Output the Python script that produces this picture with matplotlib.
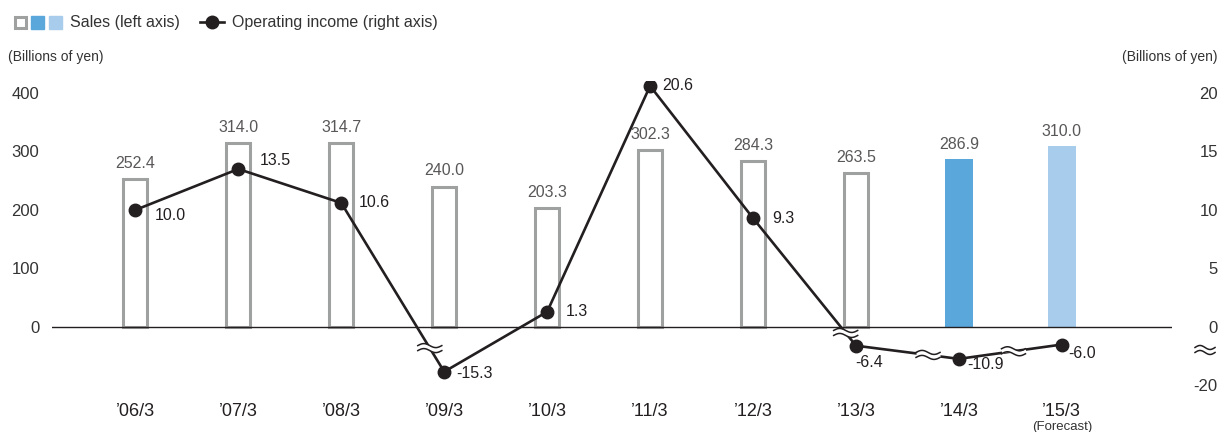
import matplotlib.pyplot as plt
from matplotlib.patches import Rectangle
from matplotlib.lines import Line2D
import numpy as np

plt.rcParams['font.family'] = ['Liberation Sans', 'DejaVu Sans']

periods = ["’06/3", "’07/3", "’08/3", "’09/3", "’10/3", "’11/3", "’12/3", "’13/3", "’14/3", "’15/3"]
sales = [252.4, 314.0, 314.7, 240.0, 203.3, 302.3, 284.3, 263.5, 286.9, 310.0]
op_income = [10.0, 13.5, 10.6, -15.3, 1.3, 20.6, 9.3, -6.4, -10.9, -6.0]
left_ticks = [0, 100, 200, 300, 400]
right_ticks = [20, 15, 10, 5, 0, -20]

# label offsets for operating income (pixels: dx, dy down)
inc_offsets = [(19, 6), (21, -9), (17, 0), (12, 2), (19, 0), (12, 0), (19, 0), (-1, 17), (8, 6), (6, 9)]
# break marks sit on these segments (start index, fraction along)
breaks = [(2, 0.86), (6, 0.9), (7, 0.7), (8, 0.53)]

W, H = 1224, 432
PX_X = 102.9   # px per category
PX_Y = 0.585   # px per left-axis unit


def to_left(v):
    # right axis is broken: positives 1:20, negatives 1:5
    v = np.asarray(v, dtype=float)
    return np.where(v >= 0, v * 20, v * 5)


def squiggle(ax, cx, cy, width=24, amp=2.0, gap=5):
    t = np.linspace(-0.5, 0.5, 40)
    xs = cx + t * width / PX_X
    wave = amp * np.sin(t * 2 * np.pi)
    y1 = cy - (wave - gap / 2) / PX_Y
    y2 = cy - (wave + gap / 2) / PX_Y
    ax.fill_between(xs, y1, y2, color='white', zorder=5, clip_on=False, lw=0)
    ax.plot(xs, y1, color='#231f20', lw=1.1, zorder=6, clip_on=False)
    ax.plot(xs, y2, color='#231f20', lw=1.1, zorder=6, clip_on=False)


fig = plt.figure(figsize=(12.24, 4.32), dpi=100)
ax = fig.add_axes([52 / W, 0.0806, 1120 / W, 0.7313])
ax.set_xlim(-0.81, 10.07)
ax.set_ylim(-120, 420)

x = np.arange(len(periods))
edge = '#9fa0a0'
for i, s in enumerate(sales):
    if i < 8:
        ax.bar(i, s, width=0.235, facecolor='white', edgecolor=edge, linewidth=2.2, zorder=2)
        top = s + 2
    else:
        c = '#5aa7dc' if i == 8 else '#a8cceb'
        ax.bar(i, s, width=0.27, color=c, zorder=2)
        top = s
    ax.annotate(f"{s:.1f}", (i, top), xytext=(0, 5), textcoords='offset points',
                ha='center', va='bottom', fontsize=11.5, color='#595757')

ax.axhline(0, color='#231f20', lw=1.0, zorder=3)

yl = to_left(op_income)
ax.plot(x, yl, color='#231f20', lw=1.9, marker='o', ms=9, zorder=4)
for i, v in enumerate(op_income):
    dx, dy = inc_offsets[i]
    ax.annotate(f"{v:.1f}", (i, yl[i]), xytext=(dx * 0.72, -dy * 0.72), textcoords='offset points',
                ha='left', va='center', fontsize=11.5, color='#231f20')

for i, f in breaks:
    cx = i + f
    cy = yl[i] + f * (yl[i + 1] - yl[i])
    squiggle(ax, cx, cy)
# break on the right axis
squiggle(ax, 10.07 + (1205 - 1172) / PX_X, -(350 - 327) / PX_Y, width=20)

for sp in ax.spines.values():
    sp.set_visible(False)
ax.set_yticks(left_ticks)
ax.tick_params(axis='y', length=0, pad=9, labelsize=12, labelcolor='#333333')
ax.set_xticks(x)
ax.set_xticklabels(periods)
ax.tick_params(axis='x', length=0, pad=4, labelsize=13, labelcolor='#231f20')

ax2 = ax.twinx()
ax2.set_ylim(ax.get_ylim())
ax2.set_yticks(to_left(right_ticks))
ax2.set_yticklabels([str(t) for t in right_ticks], ha='right')
ax2.tick_params(axis='y', length=0, pad=33, labelsize=12, labelcolor='#333333')
for sp in ax2.spines.values():
    sp.set_visible(False)

ax.text(9, -0.075, "(Forecast)", transform=ax.get_xaxis_transform(), ha='center', va='top',
        fontsize=9.5, color='#333333')

fig.text(8 / W, 1 - 57 / H, "(Billions of yen)", ha='left', va='center', fontsize=10, color='#333333')
fig.text(1218 / W, 1 - 57 / H, "(Billions of yen)", ha='right', va='center', fontsize=10, color='#333333')

# legend
fig.add_artist(Rectangle((15 / W, 1 - 28 / H), 11 / W, 11 / H, transform=fig.transFigure,
                         facecolor='white', edgecolor=edge, lw=2.2))
fig.add_artist(Rectangle((31 / W, 1 - 29 / H), 13 / W, 13 / H, transform=fig.transFigure, color='#5aa7dc'))
fig.add_artist(Rectangle((49 / W, 1 - 29 / H), 13 / W, 13 / H, transform=fig.transFigure, color='#a8cceb'))
fig.text(70 / W, 1 - 22 / H, "Sales (left axis)", ha='left', va='center', fontsize=11.5, color='#333333')
fig.add_artist(Line2D([200 / W, 224 / W], [1 - 22 / H, 1 - 22 / H], transform=fig.transFigure,
                      color='#231f20', lw=1.9))
fig.add_artist(Line2D([212 / W], [1 - 22 / H], transform=fig.transFigure,
                      color='#231f20', marker='o', ms=9, lw=0))
fig.text(232 / W, 1 - 22 / H, "Operating income (right axis)", ha='left', va='center', fontsize=11.5, color='#333333')

fig.savefig("out.png", dpi=100)
